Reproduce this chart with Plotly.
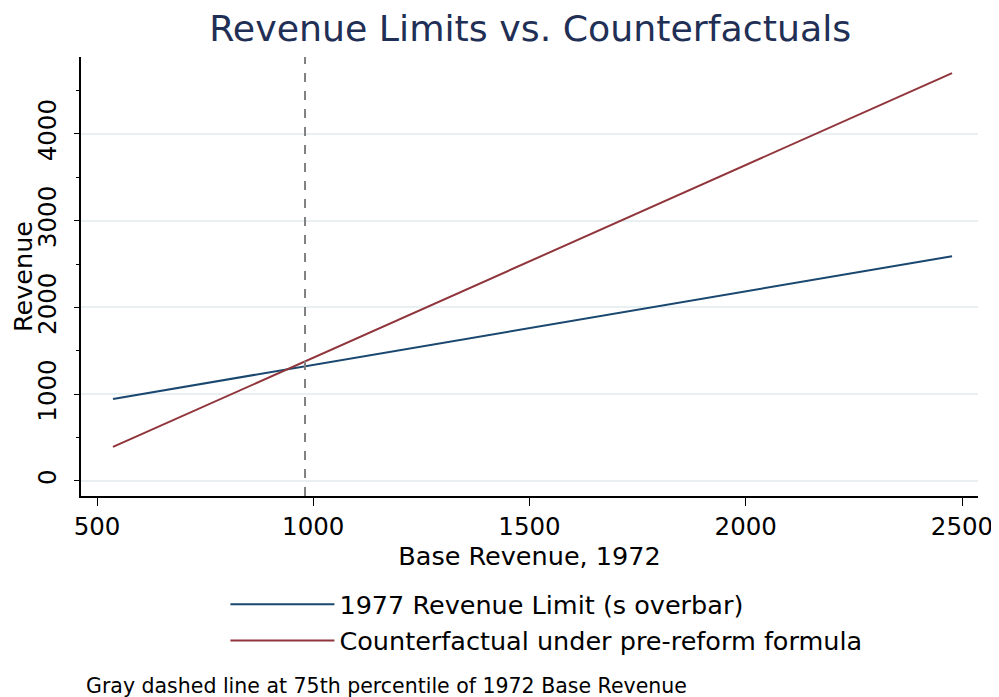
import plotly.graph_objects as go

base_revenue = [537, 2477]
limit_1977 = [945, 2590]
counterfactual = [392, 4700]
p75_base = 981
x_ticks = [500, 1000, 1500, 2000, 2500]
y_ticks = [0, 1000, 2000, 3000, 4000]
y_minor = [500, 1500, 2500, 3500, 4500]

FONT = "DejaVu Sans"
fig = go.Figure()
fig.add_trace(go.Scatter(x=base_revenue, y=limit_1977, mode="lines",
                         name="1977 Revenue Limit (s overbar)",
                         line=dict(color="#1a476f", width=2)))
fig.add_trace(go.Scatter(x=base_revenue, y=counterfactual, mode="lines",
                         name="Counterfactual under pre-reform formula",
                         line=dict(color="#90353b", width=2)))
fig.add_vline(x=p75_base, line=dict(color="#808080", width=2, dash="dash"))

fig.update_layout(
    width=991, height=689,
    margin=dict(l=73, r=21, t=49, b=201),
    paper_bgcolor="white", plot_bgcolor="white",
    font=dict(family=FONT, color="black", size=25),
    title=dict(text="Revenue Limits vs. Counterfactuals", x=0.527, xanchor="center",
               y=0.970, yanchor="middle",
               font=dict(size=36.3, color="#1f2f55", family=FONT)),
    showlegend=True,
    legend=dict(x=0.161, xanchor="left", y=-0.194, yanchor="top",
                orientation="v", itemwidth=104, font=dict(size=25.5, family=FONT),
                tracegroupgap=0, bgcolor="rgba(0,0,0,0)"),
    annotations=[dict(text="Gray dashed line at 75th percentile of 1972 Base Revenue",
                      xref="paper", yref="paper", x=0.0035, y=-0.433,
                      xanchor="left", yanchor="middle", showarrow=False,
                      font=dict(size=20.5, family=FONT))],
)
fig.update_xaxes(range=[463, 2537], tickvals=x_ticks, showline=True, linecolor="black",
                 linewidth=1.5, ticks="outside", ticklen=8, tickcolor="black",
                 showgrid=False, zeroline=False, automargin=False,
                 title=dict(text="Base Revenue, 1972", standoff=0, font=dict(size=25.5)),
                 tickfont=dict(size=24.5))
fig.update_yaxes(range=[-173, 4885], tickvals=y_ticks, showline=True, linecolor="black",
                 linewidth=1.5, ticks="outside", ticklen=5, tickcolor="black",
                 tickangle=-90, showgrid=True, gridcolor="#e8f0f2", gridwidth=2,
                 zeroline=False, ticklabelstandoff=8, automargin=False,
                 minor=dict(tickvals=y_minor, ticks="outside",
                            ticklen=3, tickcolor="black", showgrid=False),
                 title=dict(text="Revenue", standoff=0, font=dict(size=25.5)),
                 tickfont=dict(size=24.5))
fig.write_html("out.html")
